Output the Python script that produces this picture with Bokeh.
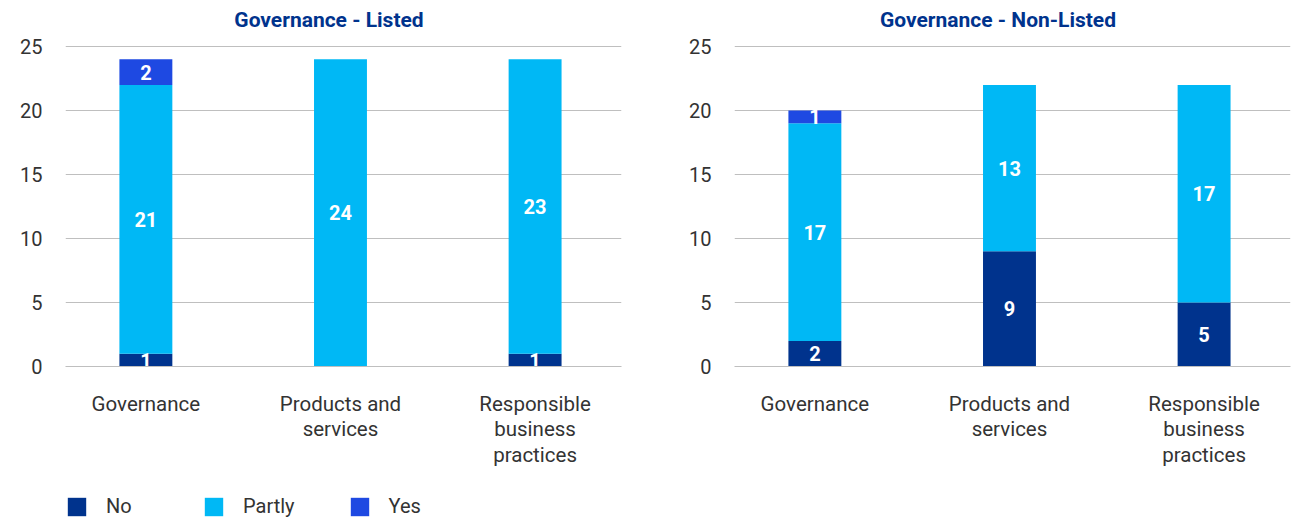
from bokeh.plotting import figure
from bokeh.layouts import row, column
from bokeh.models import (Range1d, FixedTicker, ColumnDataSource, Legend, LegendItem, Label)
from bokeh.core.properties import value
from bokeh.embed import file_html
from bokeh.resources import INLINE

# Categories and answer counts per panel
categories = ["Governance", "Products and\nservices", "Responsible\nbusiness\npractices"]
answers = ["No", "Partly", "Yes"]

listed_no = [1, 0, 1]
listed_partly = [21, 24, 23]
listed_yes = [2, 0, 0]

nonlisted_no = [2, 9, 5]
nonlisted_partly = [17, 13, 17]
nonlisted_yes = [1, 0, 0]

y_ticks = [0, 5, 10, 15, 20, 25]

COLORS = {"No": "#00338D", "Partly": "#00B8F5", "Yes": "#1E49E2"}
TITLE_COLOR = "#00338D"
TEXT_COLOR = "#333333"
GRID_COLOR = "#BFBFBF"
FONT = "Roboto"

PANEL_HEIGHT = 480
PLOT_BOTTOM = 366          # pixel row of the zero line
AXIS_TOP = 46              # pixel row of the top tick
positions = [i + 0.5 for i in range(len(categories))]
y_max = y_ticks[-1] * PLOT_BOTTOM / (PLOT_BOTTOM - AXIS_TOP)   # headroom for the heading


def make_panel(title, no, partly, yes, width, border_left, border_right):
    p = figure(width=width, height=PANEL_HEIGHT, output_backend="svg", toolbar_location=None,
               x_range=Range1d(0.087, 2.944), y_range=Range1d(0, y_max),
               min_border_left=border_left, min_border_right=border_right,
               min_border_top=0, min_border_bottom=PANEL_HEIGHT - PLOT_BOTTOM)
    p.outline_line_color = None
    p.background_fill_color = "white"
    p.border_fill_color = "white"

    # panel heading, placed in screen units relative to the plot frame
    p.add_layout(Label(x=263.5, y=PLOT_BOTTOM - 19.5, x_units="screen", y_units="screen",
                       text=title, text_font=FONT, text_font_size="21px",
                       text_font_style="bold", text_color=TITLE_COLOR,
                       text_align="center", text_baseline="middle"))

    src = ColumnDataSource(dict(x=positions, No=no, Partly=partly, Yes=yes))
    p.vbar_stack(answers, x="x", width=0.272, source=src,
                 color=[COLORS[a] for a in answers], line_color=None)

    # segment value labels, centred in each non-empty segment
    lx, ly, lt = [], [], []
    for i, x in enumerate(positions):
        base = 0
        for series in (no, partly, yes):
            v = series[i]
            if v:
                lx.append(x)
                ly.append(base + v / 2)
                lt.append(str(v))
            base += v
    p.text(x=lx, y=ly, text=lt, text_color="white", text_font=value(FONT),
           text_font_size="20px", text_font_style="bold",
           text_align="center", text_baseline="middle")

    # axes
    p.xaxis.ticker = FixedTicker(ticks=positions)
    p.xaxis.major_label_overrides = {x: c for x, c in zip(positions, categories)}
    p.xaxis.major_tick_line_color = None
    p.xaxis.major_tick_out = 0
    p.xaxis.minor_tick_line_color = None
    p.xaxis.axis_line_color = GRID_COLOR
    p.xaxis.major_label_standoff = 25
    p.xaxis.major_label_text_font = FONT
    p.xaxis.major_label_text_font_size = "20.5px"
    p.xaxis.major_label_text_color = TEXT_COLOR
    p.xaxis.major_label_text_line_height = 1.08

    p.yaxis.ticker = FixedTicker(ticks=y_ticks)
    p.yaxis.major_tick_line_color = None
    p.yaxis.major_tick_out = 0
    p.yaxis.minor_tick_line_color = None
    p.yaxis.axis_line_color = None
    p.yaxis.major_label_standoff = 23
    p.yaxis.major_label_text_font = FONT
    p.yaxis.major_label_text_font_size = "20px"
    p.yaxis.major_label_text_color = TEXT_COLOR

    p.xgrid.grid_line_color = None
    p.ygrid.grid_line_color = GRID_COLOR
    p.ygrid.grid_line_width = 1
    return p


left = make_panel("Governance - Listed", listed_no, listed_partly, listed_yes, 650, 65, 29)
right = make_panel("Governance - Non-Listed", nonlisted_no, nonlisted_partly, nonlisted_yes,
                   642, 84, 2)

# legend strip under the panels; its swatch renderers sit outside the visible range
key = figure(width=650, height=518 - PANEL_HEIGHT, output_backend="svg", toolbar_location=None,
             x_range=Range1d(0, 1), y_range=Range1d(0, 1),
             min_border=0, outline_line_color=None)
key.axis.visible = False
key.grid.visible = False
swatch_src = ColumnDataSource(dict(x=[-5.0], top=[-5.0]))
key_items = []
for a in answers:
    r = key.vbar(x="x", top="top", bottom=-6.0, width=0.1, source=swatch_src,
                 color=COLORS[a], line_color=None)
    key_items.append(LegendItem(label=a, renderers=[r]))
legend = Legend(items=key_items, orientation="horizontal", location=(65, 0),
                glyph_width=23, glyph_height=23, label_standoff=18, spacing=53,
                label_width=43, padding=0, margin=0,
                border_line_color=None, background_fill_alpha=0,
                label_text_font=FONT, label_text_font_size="20px",
                label_text_color=TEXT_COLOR)
key.add_layout(legend, "center")

layout = column(row(left, right), key)
open("out.html", "w").write(file_html(layout, INLINE))
